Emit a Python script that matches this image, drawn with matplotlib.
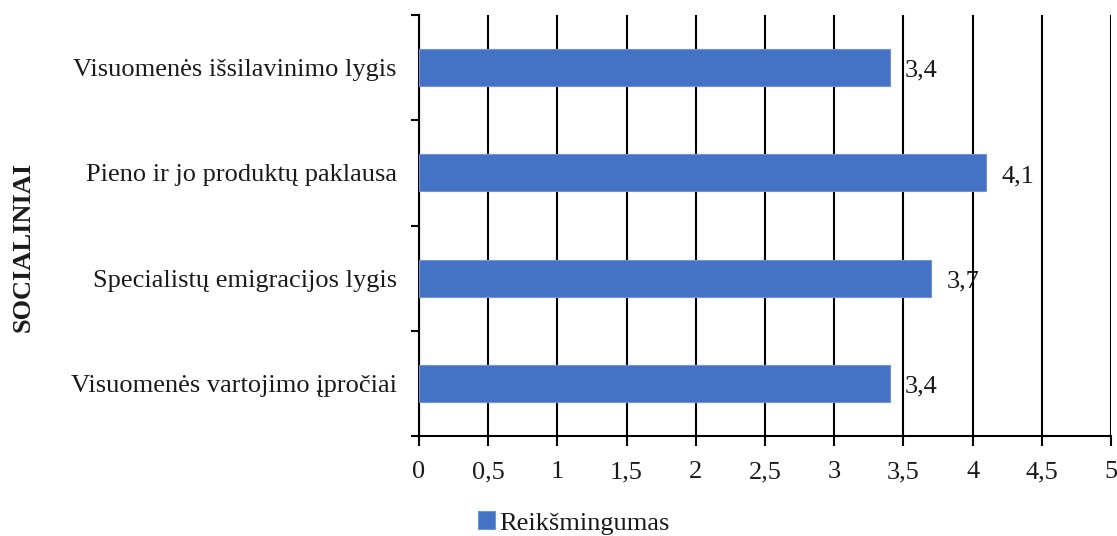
import matplotlib
matplotlib.use("Agg")
import matplotlib.pyplot as plt
import numpy as np

# Survey results: importance of social factors
categories = [
    "Visuomenės išsilavinimo lygis",
    "Pieno ir jo produktų paklausa",
    "Specialistų emigracijos lygis",
    "Visuomenės vartojimo įpročiai",
]
values = [3.4, 4.1, 3.7, 3.4]
x_ticks = [0, 0.5, 1, 1.5, 2, 2.5, 3, 3.5, 4, 4.5, 5]
x_tick_labels = ["0", "0,5", "1", "1,5", "2", "2,5", "3", "3,5", "4", "4,5", "5"]
series_name = "Reikšmingumas"
group_label = "SOCIALINIAI"

plt.rcParams["font.family"] = ["Liberation Serif", "DejaVu Serif"]

FS = 19
TXT = "#1a1a1a"

W, H = 1117, 536
fig = plt.figure(figsize=(W / 100, H / 100), dpi=100)
ax = fig.add_axes([419 / W, 1 - 436 / H, (1111 - 419) / W, (436 - 15) / H])

bar_color = "#4472C4"
ypos = np.arange(len(categories))[::-1]
ax.barh(ypos, values, height=0.35, color=bar_color, edgecolor="#6f93d6",
        linewidth=0.8, zorder=3, label=series_name)

for y, v in zip(ypos, values):
    ax.text(v + 0.11, y - 0.03, f"{v:.1f}".replace(".", ","), va="center",
            ha="left", fontsize=FS, color=TXT, zorder=4)

ax.set_xlim(0, 5)
ax.set_ylim(-0.5, len(categories) - 0.5)

ax.set_xticks(x_ticks)
ax.set_xticklabels(x_tick_labels, fontsize=FS, color=TXT)
ax.xaxis.grid(True, color="black", linewidth=1.5, zorder=1)
ax.set_axisbelow(True)
ax.tick_params(axis="x", direction="out", length=7, width=1.5, pad=11)

# category labels centred, ticks on category boundaries
ax.set_yticks(ypos)
ax.set_yticklabels(categories, fontsize=FS, color=TXT)
ax.tick_params(axis="y", which="major", length=0, pad=16)
ax.set_yticks(np.arange(-0.5, len(categories), 1.0), minor=True)
ax.tick_params(axis="y", which="minor", direction="out", length=6, width=1.5)

for side in ["top", "right"]:
    ax.spines[side].set_visible(False)
ax.spines["left"].set_linewidth(1.5)
ax.spines["bottom"].set_linewidth(1.5)

fig.text(23 / W, 1 - 247 / H, group_label, rotation=90, fontsize=FS,
         fontweight="bold", ha="center", va="center", color=TXT)

leg = fig.legend(loc="center", bbox_to_anchor=(574 / W, 1 - 523 / H),
                 frameon=False, fontsize=FS, handlelength=0.65,
                 handleheight=0.65, handletextpad=0.15)
for t in leg.get_texts():
    t.set_color(TXT)

fig.savefig("out.png", dpi=100)
